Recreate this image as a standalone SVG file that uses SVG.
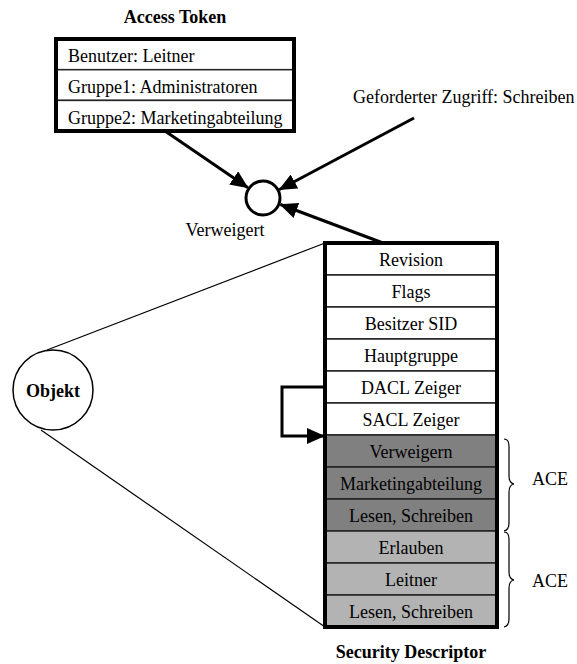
<svg xmlns="http://www.w3.org/2000/svg" width="577" height="664" viewBox="0 0 577 664">
  <style>
    text { font-family: "Liberation Serif", "Times New Roman", "DejaVu Serif", serif; font-size: 18px; fill: #000; }
    .title { font-weight: bold; }
    .mid { text-anchor: middle; }
    .frame { fill: none; stroke: #000; stroke-width: 4; }
    .row { fill: #fff; stroke: #222; stroke-width: 1.5; }
    .dark { fill: #808080; }
    .light { fill: #b3b3b3; }
    .thin { fill: none; stroke: #000; stroke-width: 1.2; }
    .arrow { fill: none; stroke: #000; stroke-width: 3; marker-end: url(#head); }
    .brace { fill: none; stroke: #000; stroke-width: 1.2; }
  </style>
  <defs>
    <marker id="head" markerUnits="userSpaceOnUse" markerWidth="18" markerHeight="16" refX="17" refY="8" orient="auto">
      <path d="M0,0 L18,8 L0,16 Z" fill="#000"/>
    </marker>
  </defs>

  <rect width="577" height="664" fill="#fff"/>

  <!-- Access token -->
  <g id="access-token">
    <text class="title mid" x="175" y="23">Access Token</text>
    <rect class="row" x="56" y="39" width="238" height="30.7"/>
    <rect class="row" x="56" y="69.7" width="238" height="30.7"/>
    <rect class="row" x="56" y="100.4" width="238" height="30.6"/>
    <rect class="frame" x="56" y="39" width="238" height="92"/>
    <text x="68" y="62">Benutzer: Leitner</text>
    <text x="68" y="93">Gruppe1: Administratoren</text>
    <text x="68" y="124">Gruppe2: Marketingabteilung</text>
  </g>

  <!-- Requested access -->
  <g id="requested-access">
    <text x="353" y="103">Geforderter Zugriff: Schreiben</text>
  </g>

  <!-- Access check -->
  <g id="access-check">
    <circle cx="263" cy="198" r="17" fill="#fff" stroke="#000" stroke-width="3"/>
    <text class="mid" x="225" y="236">Verweigert</text>
  </g>

  <!-- Object -->
  <g id="object">
    <circle cx="53" cy="390" r="40" fill="#fff" stroke="#000" stroke-width="1.5"/>
    <text class="title mid" x="53" y="397">Objekt</text>
  </g>

  <!-- Security descriptor -->
  <g id="security-descriptor">
    <rect class="row" x="325" y="243" width="172" height="32"/>
    <rect class="row" x="325" y="275" width="172" height="32"/>
    <rect class="row" x="325" y="307" width="172" height="32"/>
    <rect class="row" x="325" y="339" width="172" height="32"/>
    <rect class="row" x="325" y="371" width="172" height="32"/>
    <rect class="row" x="325" y="403" width="172" height="32"/>
    <rect class="row dark" x="325" y="435" width="172" height="32"/>
    <rect class="row dark" x="325" y="467" width="172" height="32"/>
    <rect class="row dark" x="325" y="499" width="172" height="32"/>
    <rect class="row light" x="325" y="531" width="172" height="32"/>
    <rect class="row light" x="325" y="563" width="172" height="32"/>
    <rect class="row light" x="325" y="595" width="172" height="32"/>
    <rect class="frame" x="325" y="243" width="172" height="384"/>
    <text class="mid" x="411" y="265.5">Revision</text>
    <text class="mid" x="411" y="297.5">Flags</text>
    <text class="mid" x="411" y="329.5">Besitzer SID</text>
    <text class="mid" x="411" y="361.5">Hauptgruppe</text>
    <text class="mid" x="411" y="393.5">DACL Zeiger</text>
    <text class="mid" x="411" y="425.5">SACL Zeiger</text>
    <text class="mid" x="411" y="457.5">Verweigern</text>
    <text class="mid" x="411" y="489.5">Marketingabteilung</text>
    <text class="mid" x="411" y="521.5">Lesen, Schreiben</text>
    <text class="mid" x="411" y="553.5">Erlauben</text>
    <text class="mid" x="411" y="585.5">Leitner</text>
    <text class="mid" x="411" y="617.5">Lesen, Schreiben</text>
    <text class="title mid" x="411" y="658">Security Descriptor</text>
  </g>

  <!-- ACE brackets -->
  <g id="ace-1">
    <path class="brace" d="M504,439 Q509,439 509,446 L509,476 Q509,483 514,484 Q509,485 509,492 L509,523 Q509,530 504,531"/>
    <text class="mid" x="550" y="485">ACE</text>
  </g>
  <g id="ace-2">
    <path class="brace" d="M504,532 Q509,532 509,539 L509,572 Q509,579 514,580 Q509,581 509,588 L509,619 Q509,626 504,627"/>
    <text class="mid" x="550" y="587">ACE</text>
  </g>

  <!-- Connectors -->
  <g id="connectors">
    <line class="thin" x1="325" y1="243" x2="47" y2="350"/>
    <line class="thin" x1="325" y1="627" x2="41" y2="430"/>
    <line class="arrow" x1="165" y1="131" x2="247.7" y2="187.6"/>
    <line class="arrow" x1="414" y1="118" x2="279.5" y2="189.5"/>
    <line class="arrow" x1="383" y1="243" x2="280.5" y2="204.5"/>
    <polyline class="arrow" points="325,387 282,387 282,436 324,436"/>
  </g>
</svg>
